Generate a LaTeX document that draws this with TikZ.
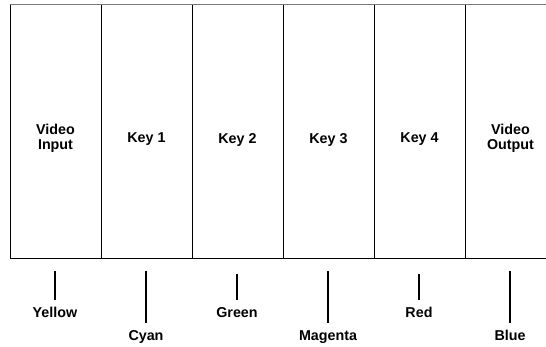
\documentclass[tikz,border=0pt]{standalone}
\usepackage{fontspec}
\setmainfont{Liberation Sans}
\begin{document}
\begin{tikzpicture}[x=1pt,y=-1pt,
  colbox/.style={draw=black, line width=0.9pt, minimum width=91pt, minimum height=253.5pt,
    inner sep=0pt, outer sep=0pt, anchor=north west},
  lab/.style={font=\bfseries\fontsize{14.3}{15}\selectfont, align=center, inner sep=0pt},
  clab/.style={font=\bfseries\fontsize{14.3}{15}\selectfont, inner xsep=0pt, inner ysep=6.5pt,
    text height=10pt, text depth=2.5pt, anchor=base},
  tick/.style={draw=black, line width=1.1pt}]
\useasboundingbox (0,0) rectangle (546,346);
\clip (0,0) rectangle (546,346);
% columns
\node[colbox] (c0) at (10,4.5) {};
\node[colbox] (c1) at (101,4.5) {};
\node[colbox] (c2) at (192,4.5) {};
\node[colbox] (c3) at (283,4.5) {};
\node[colbox] (c4) at (374,4.5) {};
\node[colbox] (c5) at (465,4.5) {};
\draw[gray!95!black, line width=1.8pt] (c0.north west) -- (c5.north east);
% labels
\node[lab] (l0) at (55.5,138.5) {Video\\Input};
\node[lab] (l1) at (146.5,139.5) {Key 1};
\node[lab] (l2) at (237.5,139.5) {Key 2};
\node[lab] (l3) at (328.5,139.5) {Key 3};
\node[lab] (l4) at (419.5,139.5) {Key 4};
\node[lab] (l5) at (510.5,138.5) {Video\\Output};
% colour labels
\node[clab] (yellow) at (55,317) {Yellow};
\node[clab] (cyan) at (146,340) {Cyan};
\node[clab] (green) at (237,317) {Green};
\node[clab] (magenta) at (328,340) {Magenta};
\node[clab] (red) at (419,317) {Red};
\node[clab] (blue) at (510,340) {Blue};
\coordinate (ty) at (55,271);
\coordinate (tc) at (146,271);
\coordinate (tg) at (237,274);
\coordinate (tm) at (328,271);
\coordinate (tr) at (419,274);
\coordinate (tb) at (510,271);
\draw[tick] (ty) -- (ty |- yellow.north);
\draw[tick] (tc) -- (tc |- cyan.north);
\draw[tick] (tg) -- (tg |- green.north);
\draw[tick] (tm) -- (tm |- magenta.north);
\draw[tick] (tr) -- (tr |- red.north);
\draw[tick] (tb) -- (tb |- blue.north);
\end{tikzpicture}
\end{document}
